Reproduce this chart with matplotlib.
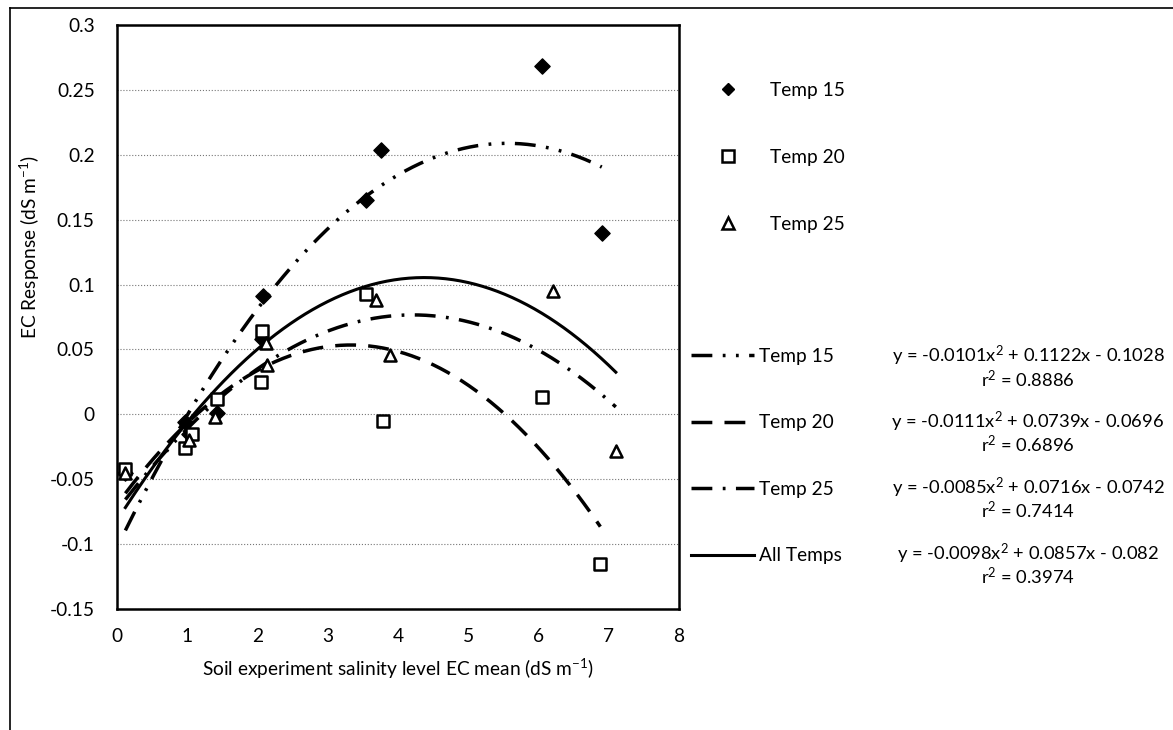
import numpy as np
import matplotlib
matplotlib.use("Agg")
import matplotlib.pyplot as plt
from matplotlib.lines import Line2D

plt.rcParams['font.family'] = ['Lato', 'DejaVu Sans']
plt.rcParams['mathtext.fontset'] = 'custom'
plt.rcParams['mathtext.rm'] = 'Lato'
plt.rcParams['mathtext.default'] = 'regular'
plt.rcParams['axes.unicode_minus'] = False

# Mesures par température (EC du sol vs réponse EC)
x_t15 = [0.12, 0.97, 1.02, 1.42, 2.07, 2.08, 3.55, 3.76, 6.05, 6.90]
y_t15 = [-0.045, -0.006, -0.015, 0.001, 0.058, 0.091, 0.165, 0.204, 0.268, 0.140]

x_t20 = [0.12, 0.97, 1.07, 1.42, 2.05, 2.07, 3.55, 3.78, 6.05, 6.88]
y_t20 = [-0.042, -0.026, -0.015, 0.012, 0.025, 0.064, 0.093, -0.005, 0.013, -0.115]

x_t25 = [0.12, 1.02, 1.40, 2.12, 2.13, 3.68, 3.88, 6.20, 7.10]
y_t25 = [-0.045, -0.020, -0.002, 0.055, 0.038, 0.088, 0.046, 0.095, -0.028]

# Coefficients des régressions polynomiales (a, b, c) et r²
coef_t15 = (-0.0101, 0.1122, -0.1028)
coef_t20 = (-0.0111, 0.0739, -0.0696)
coef_t25 = (-0.0085, 0.0716, -0.0742)
coef_all = (-0.0098, 0.0857, -0.082)
r2_vals = ['0.8886', '0.6896', '0.7414', '0.3974']
eq_labels = ['y = -0.0101x$^2$ + 0.1122x - 0.1028',
             'y = -0.0111x$^2$ + 0.0739x - 0.0696',
             'y = -0.0085x$^2$ + 0.0716x - 0.0742',
             'y = -0.0098x$^2$ + 0.0857x - 0.082']
serie_labels = ['Temp 15', 'Temp 20', 'Temp 25']
trend_labels = ['Temp 15', 'Temp 20', 'Temp 25', 'All Temps']

y_ticks = [-0.15, -0.1, -0.05, 0, 0.05, 0.1, 0.15, 0.2, 0.25, 0.3]
x_ticks = [0, 1, 2, 3, 4, 5, 6, 7, 8]

fs = 13.8


def curva(coef, x0, x1):
    xs = np.linspace(x0, x1, 200)
    a, b, c = coef
    return xs, a * xs**2 + b * xs + c


fig = plt.figure(figsize=(11.73, 7.30), dpi=100)
ax = fig.add_axes([0.0997, 0.1658, 0.4792, 0.8])

estilos = {
    'Temp 15': (0, (6, 3, 0.8, 3, 0.8, 3)),
    'Temp 20': (0, (6, 3.5)),
    'Temp 25': (0, (6, 3, 0.8, 3)),
    'All Temps': '-',
}

# Linhas de tendência
lw = 2.5
xs, ys = curva(coef_t15, min(x_t15), max(x_t15))
ax.plot(xs, ys, color='black', lw=lw, linestyle=estilos['Temp 15'])
xs, ys = curva(coef_t20, min(x_t20), max(x_t20))
ax.plot(xs, ys, color='black', lw=lw, linestyle=estilos['Temp 20'])
xs, ys = curva(coef_t25, min(x_t25), max(x_t25))
ax.plot(xs, ys, color='black', lw=lw, linestyle=estilos['Temp 25'])
x_all = x_t15 + x_t20 + x_t25
xs, ys = curva(coef_all, min(x_all), max(x_all))
ax.plot(xs, ys, color='black', lw=2.2, linestyle='-')

# Pontos
ax.scatter(x_t15, y_t15, marker='D', s=60, facecolor='black', edgecolor='black', zorder=3)
ax.scatter(x_t20, y_t20, marker='s', s=85, facecolor='white', edgecolor='black', lw=1.8, zorder=3)
ax.scatter(x_t25, y_t25, marker='^', s=75, facecolor='white', edgecolor='black', lw=1.8, zorder=3)

ax.set_xlim(0, 8)
ax.set_ylim(-0.15, 0.3)
ax.set_xticks(x_ticks)
ax.set_yticks(y_ticks)
ax.set_xticklabels([str(v) for v in x_ticks])
ax.set_yticklabels(['%g' % v for v in y_ticks])
ax.tick_params(axis='both', labelsize=fs, length=0)
ax.tick_params(axis='x', pad=14)
ax.tick_params(axis='y', pad=16)
ax.grid(axis='y', color='#777777', linestyle=':', lw=0.8)
ax.set_axisbelow(True)
for sp in ax.spines.values():
    sp.set_linewidth(1.8)
    sp.set_color('black')

ax.set_xlabel('Soil experiment salinity level EC mean (dS m$^{-1}$)', fontsize=fs, labelpad=8)
ax.set_ylabel('EC Response (dS m$^{-1}$)', fontsize=fs)
ax.yaxis.set_label_coords(-0.133, 0.62)

# Legenda dos pontos
mk15 = Line2D([], [], marker='D', color='black', markerfacecolor='black', markeredgecolor='black', markersize=6.5, linestyle='none')
mk20 = Line2D([], [], marker='s', color='black', markerfacecolor='white', markeredgewidth=1.8, markersize=8.5, linestyle='none')
mk25 = Line2D([], [], marker='^', color='black', markerfacecolor='white', markeredgewidth=1.8, markersize=8.5, linestyle='none')
fig.legend([mk15, mk20, mk25], serie_labels, loc='upper left',
           bbox_to_anchor=(718 / 1173, 1 - 82 / 730), frameon=False,
           fontsize=fs, handlelength=1.0, handletextpad=1.69,
           labelspacing=2.6, borderpad=0, borderaxespad=0)

# Legenda das tendências
hl = [Line2D([], [], color='black', lw=lw, linestyle=estilos[k]) for k in trend_labels]
hl[3].set_linewidth(2.2)
fig.legend(hl, trend_labels, loc='upper left',
           bbox_to_anchor=(691 / 1173, 1 - 348 / 730), frameon=False,
           fontsize=fs, handlelength=3.3, handletextpad=0.27,
           labelspacing=2.58, borderpad=0, borderaxespad=0)

# Equações
for i, (eq, r2) in enumerate(zip(eq_labels, r2_vals)):
    yy = 1 - (367 + 65.7 * i) / 730
    fig.text(1028 / 1173, yy, eq + '\n' + '$r^2$ = ' + r2, ha='center', va='center',
             fontsize=13.2, multialignment='center', linespacing=1.0)

# Moldura do gráfico
fig.add_artist(Line2D([10 / 1173, 10 / 1173], [0, 1 - 8 / 730], color='black', lw=1.2, transform=fig.transFigure))
fig.add_artist(Line2D([10 / 1173, 1], [1 - 8 / 730, 1 - 8 / 730], color='black', lw=1.2, transform=fig.transFigure))

plt.savefig('out.png', dpi=100)
